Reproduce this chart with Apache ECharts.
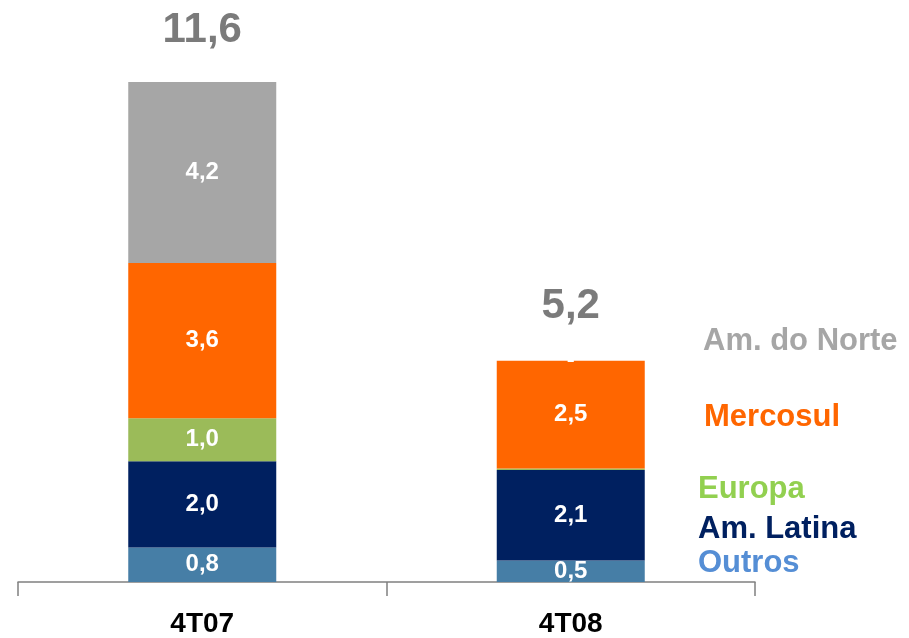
<!DOCTYPE html>
<html>
<head>
<meta charset="utf-8">
<script src="https://cdn.jsdelivr.net/npm/echarts@6/dist/echarts.min.js"></script>
<style>
    html, body {margin: 0; padding: 0; background: #fff;}
    #chart {width: 909px; height: 638px;}
</style>
</head>
<body>
<div id="chart"></div>
<script>
// categorias e valores
var categories = ["4T07", "4T08"];
var outros = [0.8, 0.5];
var amLatina = [2.0, 2.1];
var europa = [1.0, 0.03];
var mercosul = [3.6, 2.5];
var amNorte = [4.2, 0];
var totals = [11.6, 5.2];

var regionNames = ["Am. do Norte", "Mercosul", "Europa", "Am. Latina", "Outros"];
var regionColors = ["#A6A6A6", "#FF6600", "#92D050", "#002060", "#558ED5"];

var myChart = echarts.init(document.getElementById('chart'));

function fmt(v) {
    if (v === 0) return "-";
    if (v < 0.1) return "";
    return v.toFixed(1).replace(".", ",");
}

function stackSeries(name, data, color) {
    return {
        name: name,
        type: 'bar',
        stack: 'total',
        barWidth: 148,
        data: data,
        itemStyle: {color: color},
        label: {
            show: true,
            position: 'inside',
            color: '#fff',
            fontFamily: 'Liberation Sans',
            fontWeight: 'bold',
            fontSize: 24,
            formatter: function (p) {
                return fmt(p.value);
            }
        }
    };
}

// textos da legenda à direita
var legendPos = [[703, 341], [704, 417], [698, 489], [698, 529], [698, 563]];
var graphics = [];
for (let i = 0; i < regionNames.length; i++) {
    graphics.push({
        type: 'text',
        x: legendPos[i][0],
        y: legendPos[i][1],
        style: {
            text: regionNames[i],
            fill: regionColors[i],
            verticalAlign: 'middle',
            font: 'bold 31px "Liberation Sans"'
        }
    });
}

let option = {
    animation: false,
    grid: {left: 18, right: 154, top: 0, bottom: 55},
    graphic: graphics,
    xAxis: {
        type: 'category',
        data: categories,
        axisLine: {lineStyle: {color: '#808080', width: 1.5}},
        axisTick: {show: true, length: 14, lineStyle: {color: '#808080', width: 1.5}},
        axisLabel: {
            margin: 28,
            color: '#000',
            fontFamily: 'Liberation Sans',
            fontWeight: 'bold',
            fontSize: 28
        }
    },
    yAxis: {
        type: 'value',
        min: 0,
        max: 13.5,
        show: false
    },
    series: [
        stackSeries("Outros", outros, "#467EA6"),
        stackSeries("Am. Latina", amLatina, "#002060"),
        stackSeries("Europa", europa, "#9BBB59"),
        stackSeries("Mercosul", mercosul, "#FF6600"),
        stackSeries("Am. do Norte", amNorte, "#A6A6A6"),
        {
            name: "Total",
            type: 'scatter',
            symbolSize: 0,
            data: totals,
            label: {
                show: true,
                position: 'top',
                distance: 30,
                color: '#5A5A5A',
                fontFamily: 'Liberation Sans',
                fontWeight: 'bold',
                fontSize: 42,
                formatter: function (p) {
                    return p.value.toFixed(1).replace(".", ",");
                }
            }
        }
    ]
};

myChart.setOption(option);
</script>
</body>
</html>
